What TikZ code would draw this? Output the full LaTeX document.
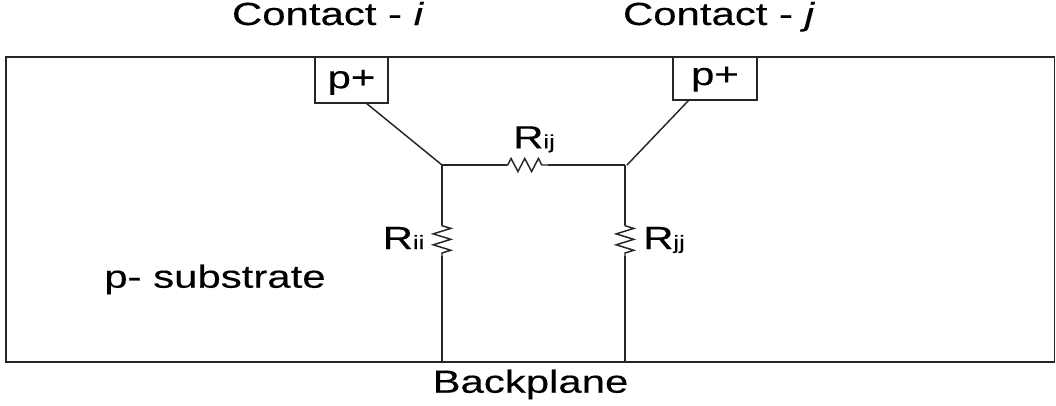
\documentclass[tikz,border=0pt]{standalone}
\usepackage{fontspec}
\setmainfont[FakeStretch=1.31,FakeBold=0.25]{Liberation Sans}
\usetikzlibrary{positioning}
\usetikzlibrary{decorations.pathmorphing}
\newcommand{\subfont}{\fontsize{14.5}{16}\selectfont}
\begin{document}
\begin{tikzpicture}
  [
    x=0.75pt,y=-0.75pt,
    line width=1.1pt,
    lbl/.style={inner sep=0pt,anchor=base,font=\fontsize{24}{26}\selectfont},
    contact/.style={draw=black!85,inner sep=0pt,text depth=5pt,font=\fontsize{24}{26}\selectfont},
    wire/.style={draw=black!85},
    resh/.style={wire,decoration={zigzag,segment length=10.25pt,amplitude=4.9pt,pre length=0.5pt,post length=0.5pt},decorate},
    resv/.style={wire,decoration={zigzag,segment length=8.2pt,amplitude=6.6pt,pre length=0.5pt,post length=0.5pt},decorate}
  ]
  \useasboundingbox (0,0) rectangle (1056,405);

  \node (substrate) at (530.25,209.5) [draw=black!85,minimum width=786.4pt,minimum height=228.75pt,inner sep=0pt] {};

  \node (pi) at (351.5,80) [contact,text height=17.4pt,minimum width=54.75pt,minimum height=34.5pt] {p+};
  \node (pj) at (715,78.5) [contact,text height=14.8pt,minimum width=63pt,minimum height=32.25pt] {p+};

  \coordinate (ni) at (442,165);
  \coordinate (nj) at (625,165);
  \coordinate (bi) at (442,362);
  \coordinate (bj) at (625,362);
  \coordinate (rija) at (507,165);
  \coordinate (rijb) at (548,165);
  \coordinate (riia) at (442,225);
  \coordinate (riib) at (442,256);
  \coordinate (rjja) at (625,225);
  \coordinate (rjjb) at (625,256);
  \coordinate (ti) at (366,103);
  \coordinate (tj) at (689,100);
  \coordinate (tk) at (627,165);

  \draw [wire] (ti) -- (ni);
  \draw [wire] (tj) -- (tk);
  \draw [wire] (ni) -- (rija);
  \draw [resh] (rija) -- (rijb);
  \draw [wire] (rijb) -- (nj);
  \draw [wire] (ni) -- (riia);
  \draw [resv] (riia) -- (riib);
  \draw [wire] (riib) -- (bi);
  \draw [wire] (nj) -- (rjja);
  \draw [resv] (rjja) -- (rjjb);
  \draw [wire] (rjjb) -- (bj);

  \node (ci) at (328,25) [lbl] {Contact - \textit{i}};
  \node (cj) at (719,25) [lbl] {Contact - \textit{j}};
  \node (Rij) at (534,148.3) [lbl] {R{\subfont ij}};
  \node (Rii) at (403.5,249) [lbl] {R{\subfont ii}};
  \node (Rjj) at (664,249) [lbl] {R{\subfont jj}};
  \node (psub) at (215,287.7) [lbl] {p- substrate};
  \node (back) at (530.5,392.7) [lbl] {Backplane};
\end{tikzpicture}
\end{document}
